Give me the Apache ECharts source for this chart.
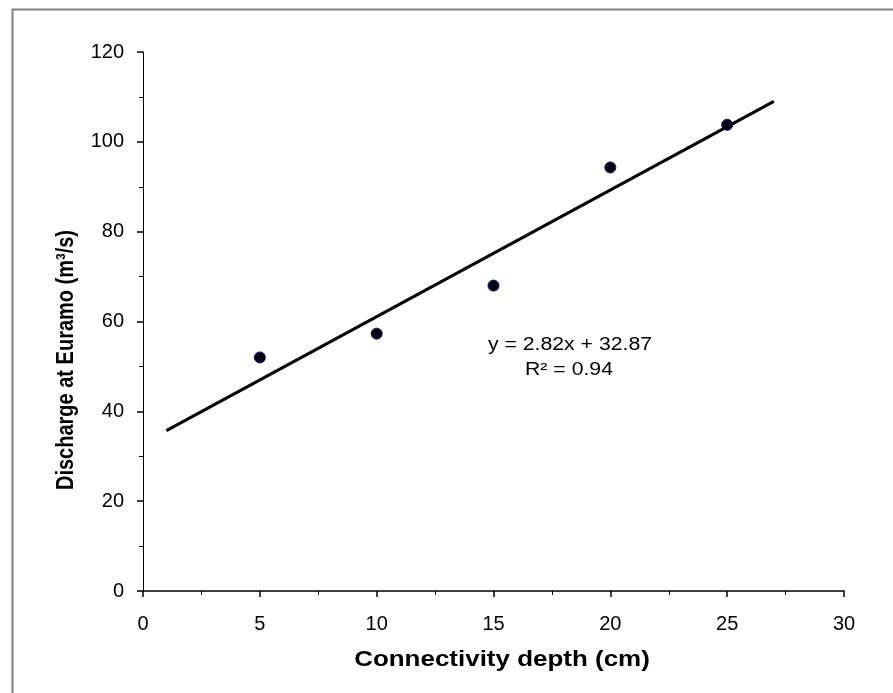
<!DOCTYPE html>
<html>
<head>
<meta charset="utf-8">
<script src="https://cdn.jsdelivr.net/npm/echarts@6/dist/echarts.min.js"></script>
<style>
    html, body { margin: 0; padding: 0; background: #fff; }
    #chart { width: 893px; height: 693px; }
</style>
</head>
<body>
<div id="chart"></div>
<script>
// observed points
const depthCm = [5, 10, 15, 20, 25];
const dischargeM3s = [52, 57.3, 68, 94.3, 103.8];
// trend line ends as drawn (x = 1 .. 27)
const trendX = [1, 27];
const trendY = [35.7, 109.0];
const xTicks = [0, 5, 10, 15, 20, 25, 30];
const yTicks = [0, 20, 40, 60, 80, 100, 120];

const font = '"Liberation Sans", Arial, sans-serif';
// the source picture is a bit wider than tall, text looks stretched sideways
const stretch = 1.18;
const chart = echarts.init(document.getElementById('chart'));

const option = {
    animation: false,
    backgroundColor: '#fff',
    grid: {
        left: 143,
        right: 49,
        top: 52,
        bottom: 102
    },
    xAxis: {
        type: 'value',
        min: xTicks[0],
        max: xTicks[xTicks.length - 1],
        interval: 5,
        axisLine: { lineStyle: { color: '#000', width: 1.5 } },
        axisTick: { length: 6, lineStyle: { color: '#000', width: 1.5 } },
        minorTick: { show: true, splitNumber: 2, length: 4, lineStyle: { color: '#000', width: 1 } },
        splitLine: { show: false },
        axisLabel: { fontFamily: font, fontSize: 20, color: '#000', margin: 23 }
    },
    yAxis: {
        type: 'value',
        min: yTicks[0],
        max: yTicks[yTicks.length - 1],
        interval: 20,
        axisLine: { show: true, lineStyle: { color: '#000', width: 1 } },
        axisTick: { show: true, length: 6, lineStyle: { color: '#000', width: 1.5 } },
        minorTick: { show: true, splitNumber: 2, length: 4, lineStyle: { color: '#000', width: 1 } },
        splitLine: { show: false },
        axisLabel: { fontFamily: font, fontSize: 20, color: '#000', margin: 19 }
    },
    graphic: [
        {
            type: 'rect',
            left: 10,
            top: 7,
            shape: { width: 1000, height: 1000 },
            style: { fill: 'none', stroke: '#808080', lineWidth: 2 },
            silent: true
        },
        {
            type: 'text',
            x: 502,
            y: 660,
            scaleX: stretch,
            style: {
                text: 'Connectivity depth (cm)',
                fontFamily: font,
                fontSize: 22,
                fontWeight: 'bold',
                fill: '#000',
                align: 'center',
                verticalAlign: 'middle'
            }
        },
        {
            type: 'text',
            x: 66,
            y: 360,
            rotation: Math.PI / 2,
            scaleY: stretch,
            style: {
                text: 'Discharge at Euramo (m³/s)',
                fontFamily: font,
                fontSize: 20,
                fontWeight: 'bold',
                fill: '#000',
                align: 'center',
                verticalAlign: 'middle'
            }
        },
        {
            type: 'text',
            x: 570,
            y: 345,
            scaleX: stretch,
            style: {
                text: 'y = 2.82x + 32.87',
                fontFamily: font,
                fontSize: 18,
                fill: '#000',
                align: 'center',
                verticalAlign: 'middle'
            }
        },
        {
            type: 'text',
            x: 569,
            y: 370,
            scaleX: stretch,
            style: {
                text: 'R² = 0.94',
                fontFamily: font,
                fontSize: 18,
                fill: '#000',
                align: 'center',
                verticalAlign: 'middle'
            }
        }
    ],
    series: [
        {
            type: 'line',
            data: trendX.map((x, i) => [x, trendY[i]]),
            showSymbol: false,
            lineStyle: { color: '#000', width: 3 },
            z: 2
        },
        {
            type: 'scatter',
            data: depthCm.map((x, i) => [x, dischargeM3s[i]]),
            symbolSize: 11,
            itemStyle: { color: '#000010', borderColor: '#10106a', borderWidth: 1, opacity: 1 },
            z: 3
        }
    ]
};

chart.setOption(option);
</script>
</body>
</html>
